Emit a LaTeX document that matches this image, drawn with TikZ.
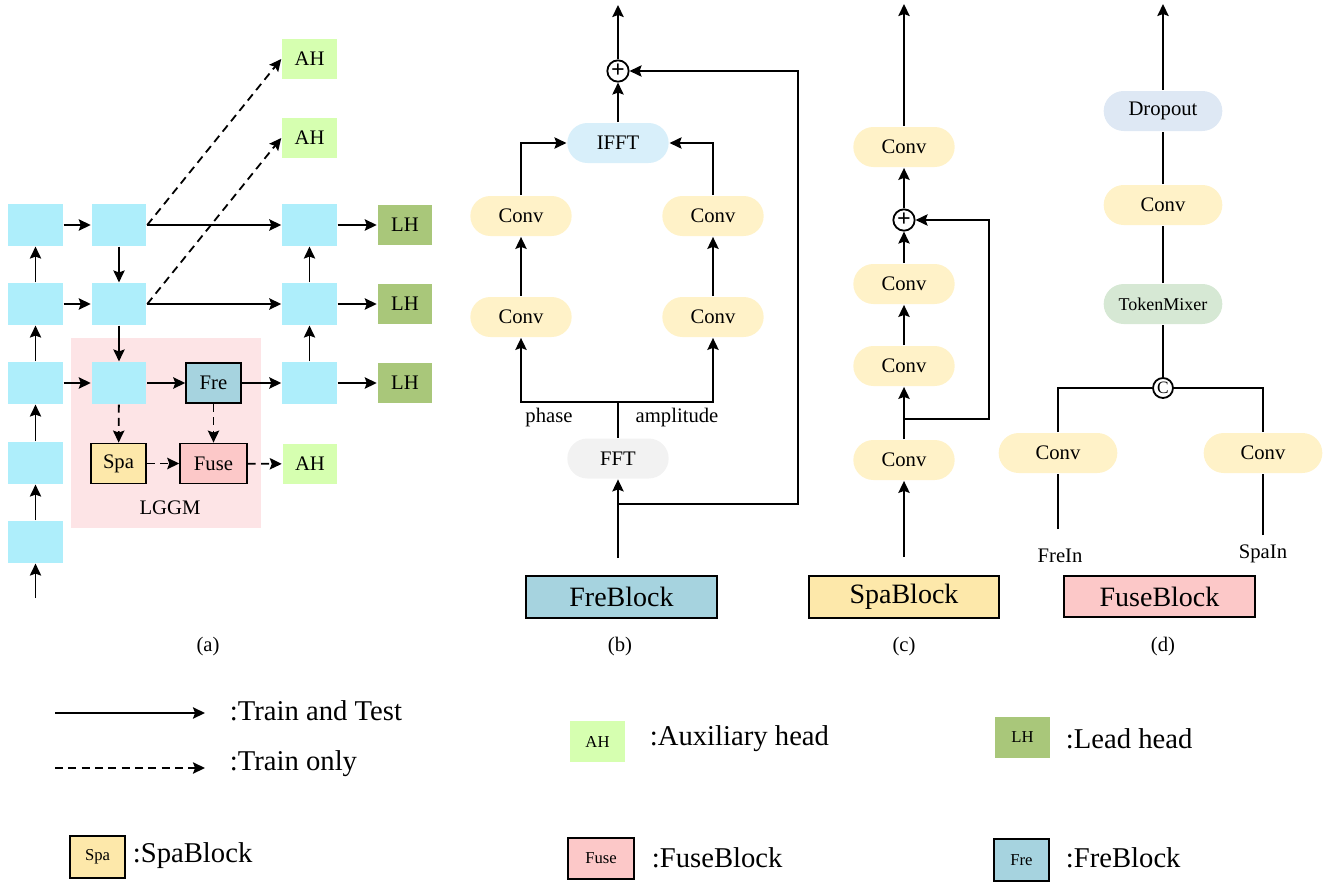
\documentclass[tikz,border=0pt]{standalone}
\usepackage{fontspec}
\setmainfont{Liberation Serif}
\usetikzlibrary{arrows.meta, positioning}

\definecolor{cellblue}{RGB}{174,238,251}
\definecolor{auxgreen}{RGB}{214,255,176}
\definecolor{leadgreen}{RGB}{169,199,122}
\definecolor{frecol}{RGB}{166,211,223}
\definecolor{spacol}{RGB}{253,232,170}
\definecolor{fusecol}{RGB}{252,200,200}
\definecolor{lggmpink}{RGB}{253,228,230}
\definecolor{convyellow}{RGB}{255,242,200}
\definecolor{ifftblue}{RGB}{216,239,250}
\definecolor{fftgray}{RGB}{242,242,242}
\definecolor{dropblue}{RGB}{222,232,244}
\definecolor{mixgreen}{RGB}{214,232,212}

\begin{document}
\begin{tikzpicture}[x=0.75pt, y=-0.75pt, line width=1.35pt,
    >={Stealth[length=9pt,width=8.5pt,inset=1.5pt]},
    every node/.style={font=\fontsize{15.5}{18}\selectfont, inner sep=0pt},
    cell/.style={rectangle, fill=cellblue, minimum width=41pt, minimum height=31pt},
    aux/.style={rectangle, fill=auxgreen, minimum width=41pt, minimum height=30pt},
    lead/.style={rectangle, fill=leadgreen, minimum width=41pt, minimum height=30pt},
    mod/.style={rectangle, draw, minimum width=41pt, minimum height=30pt},
    pill/.style={rectangle, rounded corners=15pt, minimum width=76pt, minimum height=30pt},
    widepill/.style={pill, minimum width=89pt},
    addop/.style={circle, draw, minimum size=16pt, font=\fontsize{18}{18}\selectfont\bfseries},
    blockbox/.style={rectangle, draw, minimum width=143pt, minimum height=31pt, font=\fontsize{21}{24}\selectfont},
    trainonly/.style={dash pattern=on 6pt off 4pt},
    legtext/.style={anchor=west, font=\fontsize{21.5}{24}\selectfont},
    legbox/.style={rectangle, minimum width=41pt, minimum height=31pt, font=\fontsize{12.5}{14}\selectfont}]

    \useasboundingbox (0,0) rectangle (1331,882);

    % ---------------- (a) ----------------
    \fill[lggmpink] (71,338) rectangle (261,528);
    \node (lggm) at (170,508) {LGGM};

    % backbone cells
    \node[cell] (n11) at (35.5,225) {};
    \node[cell] (n21) at (35.5,304) {};
    \node[cell] (n31) at (35.5,383) {};
    \node[cell] (n41) at (35.5,463) {};
    \node[cell] (n51) at (35.5,542) {};
    \node[cell] (n12) at (119,225) {};
    \node[cell] (n22) at (119,304) {};
    \node[cell] (n32) at (119,383) {};
    \node[cell] (n13) at (309.5,225) {};
    \node[cell] (n23) at (309.5,304) {};
    \node[cell] (n33) at (309.5,383) {};

    % heads
    \node[aux] (ah1) at (309.5,59) {AH};
    \node[aux] (ah2) at (309.5,138) {AH};
    \node[aux] (ah3) at (310,464) {AH};
    \node[lead] (lh1) at (405,225) {LH};
    \node[lead] (lh2) at (405,304) {LH};
    \node[lead] (lh3) at (405,383) {LH};

    % LGGM blocks
    \node[mod, fill=frecol] (fre) at (213.5,383) {Fre};
    \node[mod, fill=spacol] (spa) at (118.5,463.5) {Spa};
    \node[mod, fill=fusecol, minimum width=50pt] (fuse) at (213.5,463.5) {Fuse};

    \coordinate (ain) at (35.5,598);
    \draw[->] (ain) -- (n51);
    \draw[->] (n51) -- (n41);
    \draw[->] (n41) -- (n31);
    \draw[->] (n31) -- (n21);
    \draw[->] (n21) -- (n11);
    \draw[->] (n11) -- (n12);
    \draw[->] (n21) -- (n22);
    \draw[->] (n31) -- (n32);
    \draw[->] (n12) -- (n22);
    \draw[->] (n22) -- (n32);
    \draw[->] (n12) -- (n13);
    \draw[->] (n22) -- (n23);
    \draw[->] (n32) -- (fre);
    \draw[->] (fre) -- (n33);
    \draw[->] (n33) -- (n23);
    \draw[->] (n23) -- (n13);
    \draw[->] (n13) -- (lh1);
    \draw[->] (n23) -- (lh2);
    \draw[->] (n33) -- (lh3);
    \draw[->, trainonly] (n12.east) -- (ah1.west);
    \draw[->, trainonly] (n22.east) -- (ah2.west);
    \draw[->, trainonly] (n32) -- (spa);
    \draw[->, trainonly] (fre) -- (fuse);
    \draw[->, trainonly] (spa) -- (fuse);
    \draw[->, trainonly] (fuse) -- (ah3);

    \node (capa) at (208,647) {(a)};

    % ---------------- (b) FreBlock ----------------
    \node[addop] (badd) at (618,71) {+};
    \node[pill, fill=ifftblue] (ifft) at (618,143) {IFFT};
    \node[pill, fill=convyellow] (bconv1) at (521,216) {Conv};
    \node[pill, fill=convyellow] (bconv2) at (713,216) {Conv};
    \node[pill, fill=convyellow] (bconv3) at (521,317) {Conv};
    \node[pill, fill=convyellow] (bconv4) at (713,317) {Conv};
    \node[pill, fill=fftgray] (fft) at (618,458.5) {FFT};
    \node (phase) at (549,418) {phase};
    \node (ampl) at (677,418) {amplitude};
    \node[blockbox, fill=frecol] (freblock) at (621.5,597) {FreBlock};

    \coordinate (btop) at (618,5);
    \coordinate (bsplit) at (618,402);
    \coordinate (bin) at (618,558);
    \coordinate (bskip) at (618,504);
    \coordinate (bcorner) at (798,71);
    \draw[->] (badd) -- (btop);
    \draw[->] (ifft) -- (badd);
    \draw[->] (bconv1.north) |- (ifft.west);
    \draw[->] (bconv2.north) |- (ifft.east);
    \draw[->] (bconv3) -- (bconv1);
    \draw[->] (bconv4) -- (bconv2);
    \draw (fft.north) -- (bsplit);
    \draw[->] (bsplit) -| (bconv3);
    \draw[->] (bsplit) -| (bconv4);
    \draw[->] (bin) -- (fft);
    \draw[->] (bskip) -| (bcorner) -- (badd);

    \node (capb) at (620,647) {(b)};

    % ---------------- (c) SpaBlock ----------------
    \node[pill, fill=convyellow] (cconv1) at (904,147) {Conv};
    \node[addop] (cadd) at (904,220) {+};
    \node[pill, fill=convyellow] (cconv2) at (904,284) {Conv};
    \node[pill, fill=convyellow] (cconv3) at (904,366) {Conv};
    \node[pill, fill=convyellow] (cconv4) at (904,460) {Conv};
    \node[blockbox, fill=spacol] (spablock) at (904,597) {SpaBlock};

    \coordinate (ctop) at (904,4);
    \coordinate (cin) at (904,557);
    \coordinate (cskip) at (904,419);
    \coordinate (ccorner) at (989,220);
    \draw[->] (cconv1) -- (ctop);
    \draw[->] (cadd) -- (cconv1);
    \draw[->] (cconv2) -- (cadd);
    \draw[->] (cconv3) -- (cconv2);
    \draw[->] (cconv4) -- (cconv3);
    \draw[->] (cin) -- (cconv4);
    \draw[->] (cskip) -| (ccorner) -- (cadd);

    \node (capc) at (904,647) {(c)};

    % ---------------- (d) FuseBlock ----------------
    \node[widepill, fill=dropblue] (drop) at (1163,111) {Dropout};
    \node[widepill, fill=convyellow] (dconv) at (1163,205) {Conv};
    \node[widepill, fill=mixgreen, font=\fontsize{13.5}{16}\selectfont] (tmix) at (1163,304) {TokenMixer};
    \node[circle, draw, minimum size=15pt, font=\fontsize{13}{13}\selectfont] (cat) at (1163,388) {C};
    \node[widepill, fill=convyellow] (dconvl) at (1058,453) {Conv};
    \node[widepill, fill=convyellow] (dconvr) at (1263,453) {Conv};
    \node (frein) at (1060,556) {FreIn};
    \node (spain) at (1263,554) {SpaIn};
    \node[blockbox, fill=fusecol] (fuseblock) at (1159.5,596.5) {FuseBlock};

    \coordinate (dtop) at (1163,4);
    \coordinate (dinl) at (1058,529);
    \coordinate (dinr) at (1263,535);
    \draw[->] (drop) -- (dtop);
    \draw (dconv) -- (drop);
    \draw (tmix) -- (dconv);
    \draw (cat) -- (tmix);
    \draw (dconvl.north) |- (cat.west);
    \draw (dconvr.north) |- (cat.east);
    \draw (dinl) -- (dconvl);
    \draw (dinr) -- (dconvr);

    \node (capd) at (1163,647) {(d)};

    % ---------------- legend ----------------
    \coordinate (l1a) at (55,713);
    \coordinate (l1b) at (205,713);
    \coordinate (l2a) at (55,768);
    \coordinate (l2b) at (205,768);
    \draw[->] (l1a) -- (l1b);
    \draw[->, trainonly] (l2a) -- (l2b);
    \node[legtext] (ltt) at (229,711) {:Train and Test};
    \node[legtext] (lto) at (229,764) {:Train only};

    \node[legbox, fill=auxgreen] (lah) at (597.5,741.5) {AH};
    \node[legtext] (lahtext) at (649,739) {:Auxiliary head};
    \node[legbox, fill=leadgreen] (llh) at (1022.5,737.5) {LH};
    \node[legtext] (llhtext) at (1065,739) {:Lead head};

    \node[legbox, draw, fill=spacol] (lspa) at (97.5,857) {Spa};
    \node[legtext] (lspatext) at (132,856) {:SpaBlock};
    \node[legbox, draw, fill=fusecol, minimum width=50pt] (lfuse) at (601,858.5) {Fuse};
    \node[legtext] (lfusetext) at (651,858) {:FuseBlock};
    \node[legbox, draw, fill=frecol] (lfre) at (1021.5,860) {Fre};
    \node[legtext] (lfretext) at (1065,858) {:FreBlock};
\end{tikzpicture}
\end{document}
